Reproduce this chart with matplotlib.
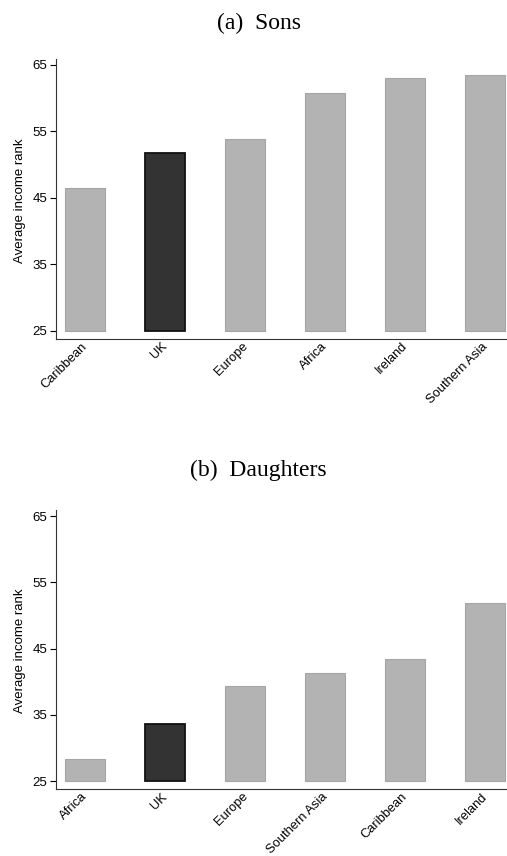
import numpy as np
import matplotlib
matplotlib.use("Agg")
import matplotlib.pyplot as plt

plt.rcParams['font.family'] = ['Liberation Sans', 'DejaVu Sans']

sons_labels = ['Caribbean', 'UK', 'Europe', 'Africa', 'Ireland', 'Southern Asia']
sons_values = [46.5, 51.8, 53.9, 60.8, 63.0, 63.5]

daughters_labels = ['Africa', 'UK', 'Europe', 'Southern Asia', 'Caribbean', 'Ireland']
daughters_values = [28.4, 33.7, 39.3, 41.3, 43.5, 51.9]

yticks = [25, 35, 45, 55, 65]
base = 25


def draw_panel(ax, labels, values):
    x = np.arange(len(labels))
    heights = np.array(values) - base
    for i, lab in enumerate(labels):
        if lab == 'UK':
            ax.bar(x[i], heights[i], bottom=base, width=0.5, color='#333333',
                   edgecolor='#111111', linewidth=1.3)
        else:
            ax.bar(x[i], heights[i], bottom=base, width=0.5, color='#b3b3b3',
                   edgecolor='#a5a5a5', linewidth=0.8)
    ax.set_xlim(-0.36, 5.28)
    ax.set_ylim(23.8, 65.5)
    ax.set_yticks(yticks)
    ax.set_yticklabels([str(t) for t in yticks], fontsize=9.5)
    ax.set_xticks(x - 0.04)
    ax.set_xticklabels(labels, rotation=45, ha='right', rotation_mode='anchor', fontsize=9.3)
    ax.tick_params(axis='x', length=0, pad=1)
    ax.tick_params(axis='y', length=4, width=0.8, pad=2)
    ax.set_ylabel('Average income rank', fontsize=9.5, labelpad=5)
    for s in ['top', 'right']:
        ax.spines[s].set_visible(False)
    ax.spines['left'].set_color('#333333')
    ax.spines['bottom'].set_color('#333333')
    ax.spines['left'].set_bounds(23.8, 65.9)


fig = plt.figure(figsize=(5.07, 8.56), dpi=100)
ax1 = fig.add_axes([0.110, 0.604, 0.890, 0.324])
ax2 = fig.add_axes([0.110, 0.078, 0.890, 0.323])

draw_panel(ax1, sons_labels, sons_values)
draw_panel(ax2, daughters_labels, daughters_values)

fig.text(0.51, 0.973, '(a)  Sons', ha='center', va='center', fontsize=17,
         family=['Liberation Serif', 'DejaVu Serif'])
fig.text(0.51, 0.450, '(b)  Daughters', ha='center', va='center', fontsize=17,
         family=['Liberation Serif', 'DejaVu Serif'])

fig.savefig('out.png', dpi=100)
